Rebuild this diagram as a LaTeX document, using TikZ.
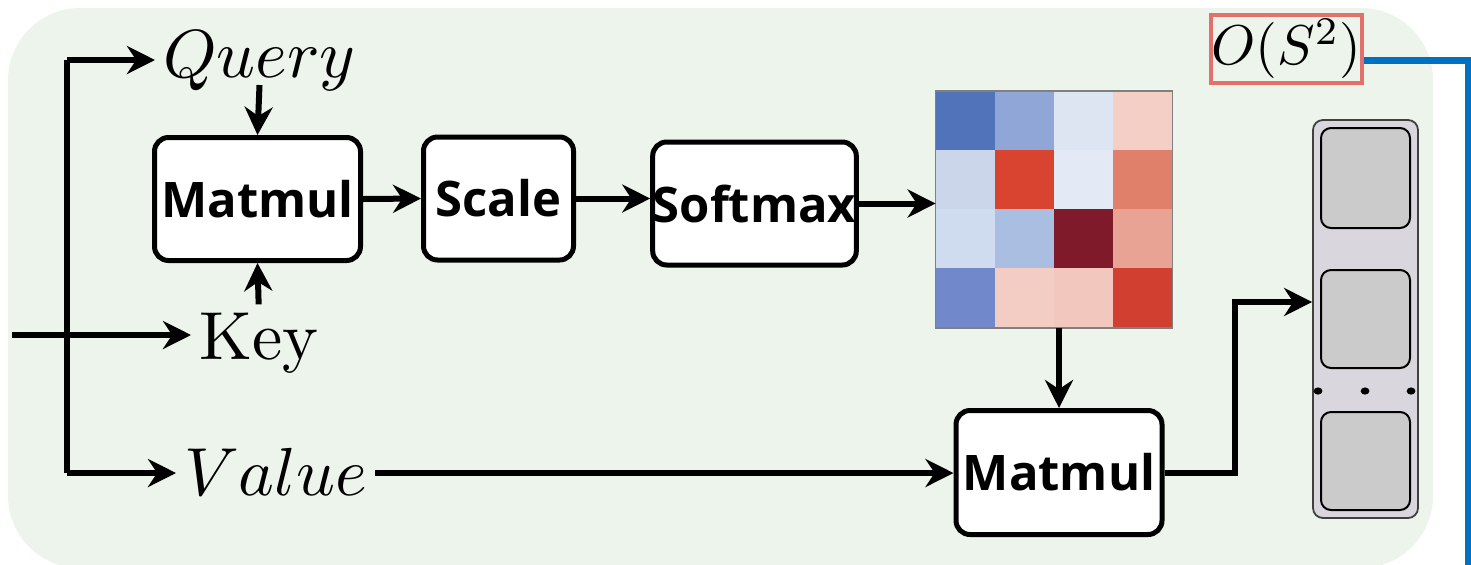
\documentclass[tikz,border=0pt]{standalone}
\usepackage{fontspec}
\newfontfamily\boxfont{Open Sans}
\usetikzlibrary{arrows.meta,calc}

\definecolor{panel}{HTML}{EDF4EC}
\definecolor{costred}{HTML}{E2716B}
\definecolor{costblue}{HTML}{0070C0}
\definecolor{stackfill}{HTML}{DAD6DD}
\definecolor{slotfill}{HTML}{CBCBCB}
% attention heat map, row by row
\definecolor{h11}{HTML}{5073BA}\definecolor{h12}{HTML}{8FA6D6}\definecolor{h13}{HTML}{DDE4F2}\definecolor{h14}{HTML}{F3CFC6}
\definecolor{h21}{HTML}{CBD6EA}\definecolor{h22}{HTML}{D8442F}\definecolor{h23}{HTML}{E3EAF6}\definecolor{h24}{HTML}{E0806B}
\definecolor{h31}{HTML}{CFDCF0}\definecolor{h32}{HTML}{A9BEE0}\definecolor{h33}{HTML}{7E1A2A}\definecolor{h34}{HTML}{E9A394}
\definecolor{h41}{HTML}{7189CB}\definecolor{h42}{HTML}{F3CDC3}\definecolor{h43}{HTML}{F2C8BE}\definecolor{h44}{HTML}{D13F30}

\tikzset{
  arr/.style={line width=3pt, -{Stealth[length=14pt,width=14pt]}},
  wire/.style={line width=3pt},
  opbox/.style={draw, line width=2.5pt, rounded corners=7pt, fill=white,
    inner sep=0pt, minimum height=61.5pt,
    font=\boxfont\bfseries\fontsize{24.5}{26}\selectfont},
  varlabel/.style={inner sep=1pt, scale=3.4},
  slot/.style={draw, line width=1pt, fill=slotfill, rounded corners=5pt,
    minimum width=44.5pt, inner sep=0pt},
}

\begin{document}
\begin{tikzpicture}[x=0.5pt,y=-0.5pt]
\useasboundingbox (0,0) rectangle (1471,564);

% panel
\fill[panel, rounded corners=36pt] (8,8) rectangle (1433,568);

% inputs
\coordinate (in) at (12,335);
\coordinate (trunkTop) at (67,60);
\coordinate (trunkBot) at (67,473);
\node[varlabel, anchor=base west] (query) at (155,77) {$Query$};
\node[varlabel, anchor=base west] (key) at (191,359) {Key};
\node[varlabel, anchor=base west] (value) at (176,495) {$Value$};

% operators
\node[opbox, minimum width=103pt] (mm1) at (257.5,199) {Matmul};
\node[opbox, minimum width=75pt] (scale) at (498.5,198.5) {Scale};
\node[opbox, minimum width=100pt] (soft) at (754.5,203.5) {Softmax};
\node[opbox, minimum width=103pt, minimum height=62pt] (mm2) at (1059,472.5) {Matmul};

% heat map
\node[minimum size=118pt, inner sep=0pt] (mat) at (1054,209.5) {};
\foreach \r in {1,...,4}{
  \foreach \c in {1,...,4}{
    \fill[h\r\c] ($(mat.north west)+({(\c-1)*59},{(\r-1)*59})$) rectangle ++(59,59);
  }
}
\draw[gray, line width=0.8pt] (mat.north west) rectangle (mat.south east);

% output stack
\node[draw=black!75, line width=0.9pt, fill=stackfill, rounded corners=5pt,
      minimum width=52.5pt, minimum height=199pt, inner sep=0pt] (stack) at (1365.5,319) {};
\node[slot, minimum height=50pt] (slot1) at (1365.5,178) {};
\node[slot, minimum height=49pt] (slot2) at (1365.5,319) {};
\node[slot, minimum height=49pt] (slot3) at (1365.5,461) {};
\foreach \x in {1318,1365,1411}{
  \fill (\x,391) ellipse [x radius=2.2pt, y radius=1.8pt];
}

% cost label
\node[draw=costred, line width=2pt, minimum width=74.5pt, minimum height=34pt,
      inner sep=0pt] (cost) at (1286.5,49) {\scalebox{2.8}{$O(S^2)$}};
\coordinate (bluecorner) at (1468,60);
\coordinate (blueend) at (1468,580);

% connectors
\draw[wire] (in) -- (in -| trunkTop);
\draw[wire] (trunkBot) -- (trunkTop);
\draw[arr] (trunkTop) -- (trunkTop -| query.west);
\draw[arr] (in -| trunkTop) -- (in -| key.west);
\draw[arr] (trunkBot) -- (trunkBot -| value.west);
\draw[arr] ([yshift=-4pt]query.base) -- (mm1.north);
\draw[arr] (key.north) -- (mm1.south);
\draw[arr] (mm1.east) -- (scale.west);
\draw[arr] (scale.east) -- (scale.east -| soft.west);
\draw[arr] (soft.east) -- (soft.east -| mat.west);
\draw[arr] (mm2.north |- mat.south) -- (mm2.north);
\draw[arr] (trunkBot -| value.east) -- (trunkBot -| mm2.west);
\draw[arr] (mm2.east) -- ++(35pt,0) |- ([yshift=8.5pt]stack.west);
\draw[costblue, line width=3.5pt] (cost.east |- bluecorner) -- (bluecorner) -- (blueend);
\end{tikzpicture}
\end{document}
